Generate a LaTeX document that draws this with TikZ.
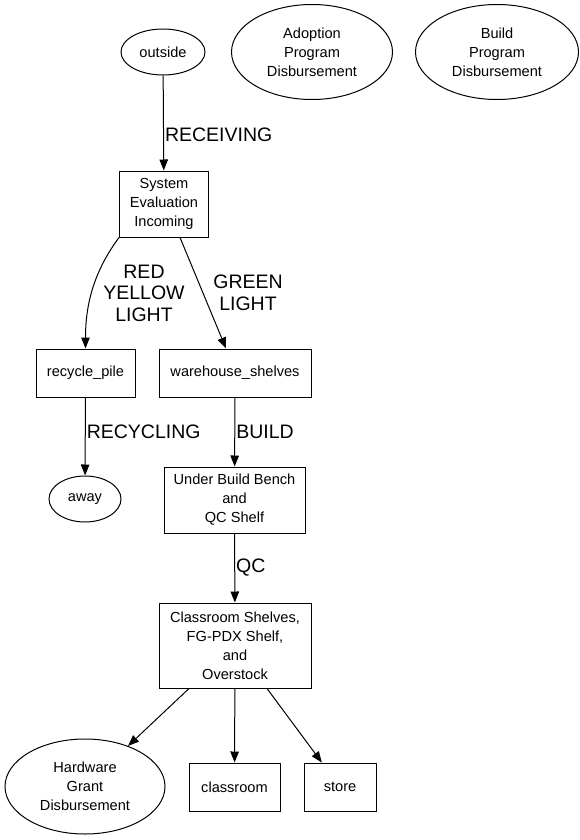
\documentclass[tikz,border=0pt]{standalone}
\usepackage{fontspec}
\setmainfont{Liberation Sans}
\usetikzlibrary{shapes,arrows.meta,positioning}
\tikzset{
    place/.style = {rectangle, draw=black, line width=1pt, inner sep=0pt, minimum height=48pt, text centered, align=center, font=\fontsize{14.6}{19}\selectfont},
    sink/.style = {ellipse, draw=black, line width=1pt, inner sep=0pt, text centered, align=center, font=\fontsize{14.6}{19}\selectfont},
    flow/.style = {-{Triangle[length=11pt,width=8.5pt]}, line width=1pt},
    flowlabel/.style = {align=center, font=\fontsize{19.5}{21.5}\selectfont, inner sep=1pt}
}

\begin{document}
\begin{tikzpicture}[x=1pt, y=-1pt]
    \useasboundingbox (0,0) rectangle (580,840);

    % top row
    \node [sink, minimum width=84pt, minimum height=46pt] (outside) at (163,52) {outside};
    \node [sink, minimum width=161pt, minimum height=95pt] (adopt) at (312,52) {Adoption\\Program\\Disbursement};
    \node [sink, minimum width=163pt, minimum height=95pt] (build) at (497,52) {Build\\Program\\Disbursement};

    % intake and sorting
    \node [place, minimum width=89pt, minimum height=66pt] (sys) at (164,204) {System\\Evaluation\\Incoming};
    \node [place, minimum width=99pt] (recycle) at (85.5,373) {recycle\_pile};
    \node [place, minimum width=152pt] (shelves) at (235,373) {warehouse\_shelves};
    \node [sink, minimum width=72pt, minimum height=46pt] (away) at (85,499) {away};
    \node [place, minimum width=141pt, minimum height=66pt] (bench) at (234.5,500) {Under Build Bench\\and\\QC Shelf};
    \node [place, minimum width=152pt, minimum height=85pt] (stock) at (235,645.5) {Classroom Shelves,\\FG-PDX Shelf,\\and\\Overstock};

    % outputs
    \node [sink, minimum width=160pt, minimum height=95pt] (grant) at (85,786.5) {Hardware\\Grant\\Disbursement};
    \node [place, minimum width=91pt] (classroom) at (234.5,787) {classroom};
    \node [place, minimum width=72pt] (store) at (340,787) {store};

    \draw [flow] (outside) -- node[flowlabel, right, pos=0.62] {RECEIVING} (sys);
    \draw [flow] (sys.south west) .. controls +(-22,30) and +(0,-50) .. (recycle.north)
        node[flowlabel] at (144,293) {RED\\YELLOW\\LIGHT};
    \draw [flow] ([xshift=16pt]sys.south) -- ([xshift=-9pt]shelves.north)
        node[flowlabel] at (248,293) {GREEN\\LIGHT};
    \draw [flow] (recycle) -- node[flowlabel, right, pos=0.44] {RECYCLING} (away);
    \draw [flow] (shelves) -- node[flowlabel, right] {BUILD} (bench);
    \draw [flow] (bench) -- node[flowlabel, right] {QC} (stock);
    \draw [flow] ([xshift=-46pt]stock.south) -- (grant);
    \draw [flow] (stock) -- (classroom);
    \draw [flow] ([xshift=32pt]stock.south) -- (store);
\end{tikzpicture}
\end{document}
